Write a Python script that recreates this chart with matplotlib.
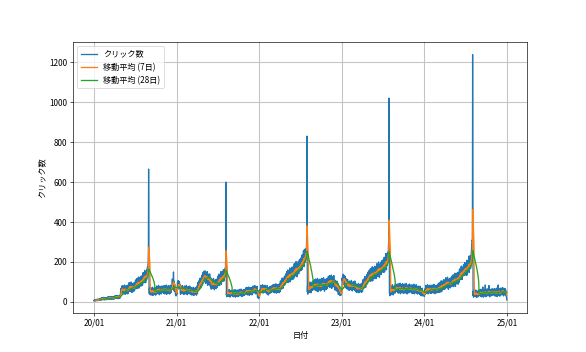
import numpy as np
import pandas as pd
import matplotlib
matplotlib.use("Agg")
import matplotlib.pyplot as plt
import matplotlib.dates as mdates

plt.rcParams['font.family'] = ['Noto Sans CJK JP', 'DejaVu Sans']

# Daily click counts, one list per month (Jan..Dec)
clicks_2020 = [
    [6, 5, 11, 7, 10, 5, 8, 12, 7, 5, 11, 9, 12, 7, 10, 15, 9, 6, 12, 8, 13, 10, 15, 9, 12, 10, 17, 10, 14, 9, 15],
    [13, 20, 10, 17, 22, 14, 12, 20, 15, 22, 11, 18, 23, 12, 15, 21, 10, 19, 14, 20, 12, 17, 22, 13, 11, 20, 15, 22, 12],
    [22, 16, 26, 18, 25, 14, 21, 27, 17, 14, 24, 19, 26, 15, 22, 28, 18, 13, 23, 16, 25, 18, 26, 14, 21, 17, 27, 15, 22, 14, 24],
    [20, 29, 17, 26, 32, 21, 19, 29, 23, 31, 18, 27, 33, 19, 22, 30, 16, 28, 21, 29, 19, 25, 31, 20, 18, 35, 30, 52, 68, 58],
    [68, 48, 80, 55, 75, 42, 62, 82, 50, 40, 72, 58, 78, 45, 65, 85, 52, 38, 70, 48, 75, 55, 80, 42, 62, 50, 82, 45, 68, 40, 72],
    [61, 89, 50, 78, 97, 64, 55, 86, 69, 94, 52, 80, 100, 58, 66, 92, 47, 83, 64, 89, 55, 75, 94, 61, 52, 86, 66, 97, 58, 80],
    [94, 71, 110, 81, 106, 67, 92, 117, 78, 67, 107, 89, 114, 76, 100, 125, 87, 69, 109, 83, 116, 93, 124, 79, 104, 90, 129, 85, 113, 80, 120],
    [96, 132, 84, 120, 146, 105, 96, 136, 115, 148, 97, 132, 158, 106, 118, 150, 96, 143, 120, 152, 111, 137, 162, 140, 175, 145, 185, 195, 250, 665, 300],
    [59, 41, 70, 48, 65, 37, 54, 72, 43, 34, 63, 50, 67, 39, 56, 74, 45, 32, 61, 41, 65, 48, 70, 37, 54, 43, 72, 39, 59, 34],
    [48, 73, 38, 63, 80, 50, 43, 70, 56, 78, 40, 66, 83, 46, 53, 76, 36, 68, 50, 73, 43, 60, 78, 48, 40, 70, 53, 80, 46, 66, 56],
    [68, 48, 80, 55, 75, 42, 62, 82, 50, 40, 72, 58, 78, 45, 65, 85, 52, 38, 70, 48, 75, 55, 80, 42, 62, 50, 82, 45, 68, 40],
    [52, 77, 42, 67, 84, 54, 47, 74, 60, 82, 72, 98, 115, 78, 85, 108, 68, 150, 82, 105, 55, 72, 90, 60, 52, 54, 37, 60, 30, 50, 40],
]
clicks_2021 = [
    [58, 38, 70, 80, 100, 67, 87, 107, 75, 65, 97, 83, 103, 70, 90, 85, 52, 38, 70, 48, 75, 55, 80, 42, 62, 50, 82, 45, 68, 40, 72],
    [48, 73, 38, 63, 80, 50, 43, 70, 56, 78, 40, 66, 83, 46, 53, 76, 36, 68, 50, 73, 43, 60, 78, 48, 40, 70, 53, 80],
    [59, 41, 70, 48, 65, 37, 54, 72, 43, 34, 63, 50, 67, 39, 56, 74, 45, 32, 61, 41, 65, 48, 70, 37, 54, 43, 72, 39, 59, 34, 63],
    [50, 82, 42, 75, 98, 64, 57, 92, 77, 106, 63, 95, 118, 76, 87, 116, 70, 111, 93, 122, 88, 111, 134, 101, 94, 132, 113, 148, 109, 135],
    [138, 109, 155, 119, 146, 100, 128, 155, 108, 93, 138, 116, 143, 97, 125, 152, 106, 83, 128, 96, 134, 105, 140, 87, 114, 95, 140, 87, 117, 78, 123],
    [76, 106, 64, 94, 115, 79, 70, 103, 85, 112, 67, 97, 118, 73, 82, 109, 61, 100, 79, 106, 70, 91, 112, 76, 67, 103, 82, 115, 73, 97],
    [110, 83, 130, 96, 126, 82, 111, 140, 95, 82, 130, 109, 138, 94, 123, 152, 108, 88, 135, 104, 144, 117, 153, 102, 132, 115, 162, 110, 142, 105, 153],
    [145, 160, 140, 170, 165, 230, 600, 330, 34, 54, 26, 46, 60, 36, 30, 52, 40, 58, 28, 48, 62, 32, 38, 56, 24, 50, 36, 54, 30, 44, 58],
    [48, 32, 58, 38, 54, 28, 44, 60, 34, 26, 52, 40, 56, 30, 46, 62, 36, 24, 50, 32, 54, 38, 58, 28, 44, 34, 60, 30, 48, 26],
    [37, 57, 29, 49, 63, 39, 33, 55, 43, 61, 31, 51, 65, 35, 41, 59, 27, 53, 39, 57, 33, 47, 61, 37, 31, 55, 41, 63, 35, 51, 43],
    [60, 42, 71, 49, 66, 38, 55, 73, 44, 35, 64, 51, 68, 40, 57, 75, 46, 33, 62, 42, 66, 49, 71, 38, 55, 44, 73, 40, 60, 35],
    [51, 73, 42, 64, 80, 53, 47, 71, 58, 78, 45, 67, 82, 49, 56, 75, 40, 69, 53, 73, 47, 62, 78, 30, 22, 46, 28, 48, 17, 32, 23],
]
clicks_2022 = [
    [35, 21, 56, 41, 63, 41, 64, 84, 55, 46, 75, 62, 79, 51, 68, 86, 57, 44, 73, 53, 77, 60, 82, 49, 66, 55, 84, 51, 71, 46, 75],
    [53, 75, 44, 66, 82, 43, 37, 61, 48, 68, 35, 57, 72, 51, 58, 77, 42, 71, 55, 75, 49, 64, 80, 53, 47, 73, 58, 82],
    [74, 54, 86, 61, 81, 48, 68, 88, 56, 46, 78, 64, 84, 51, 71, 91, 58, 44, 76, 54, 81, 61, 86, 48, 68, 56, 88, 51, 74, 46, 78],
    [60, 92, 51, 83, 105, 71, 63, 98, 81, 110, 66, 98, 120, 77, 87, 116, 69, 110, 90, 119, 84, 107, 129, 95, 87, 125, 105, 140, 99, 125],
    [131, 102, 152, 114, 146, 97, 129, 160, 111, 97, 147, 125, 157, 107, 139, 170, 122, 100, 149, 116, 159, 129, 168, 111, 143, 125, 175, 119, 153, 113, 163],
    [133, 176, 118, 161, 191, 141, 130, 177, 153, 192, 130, 172, 202, 140, 154, 192, 126, 181, 152, 191, 142, 172, 203, 153, 141, 192, 164, 211, 153, 188],
    [192, 158, 219, 176, 214, 158, 196, 234, 178, 163, 223, 199, 238, 181, 219, 258, 201, 177, 237, 200, 251, 217, 265, 199, 237, 245, 265, 225, 285, 320, 830],
    [500, 50, 81, 39, 70, 92, 57, 48, 82, 65, 92, 48, 79, 100, 56, 66, 93, 46, 86, 66, 93, 58, 80, 101, 66, 58, 95, 74, 108, 67, 91],
    [93, 65, 111, 76, 104, 59, 87, 115, 69, 55, 101, 79, 107, 62, 90, 118, 73, 51, 97, 65, 104, 76, 111, 59, 87, 69, 115, 62, 93, 55],
    [72, 107, 58, 93, 118, 76, 65, 104, 82, 114, 62, 96, 121, 68, 79, 110, 54, 100, 76, 107, 65, 90, 114, 72, 62, 104, 79, 118, 68, 96, 82],
    [110, 82, 128, 93, 121, 76, 104, 132, 86, 72, 118, 96, 124, 79, 107, 135, 90, 68, 114, 82, 121, 93, 128, 76, 104, 86, 132, 79, 110, 72],
    [73, 102, 59, 88, 108, 71, 61, 93, 74, 100, 54, 83, 103, 57, 65, 91, 38, 74, 51, 76, 37, 55, 74, 36, 32, 50, 39, 56, 34, 46, 40],
]
clicks_2023 = [
    [64, 60, 119, 106, 130, 91, 115, 139, 100, 88, 127, 109, 133, 80, 104, 128, 89, 71, 110, 83, 116, 80, 110, 65, 89, 74, 113, 68, 95, 62, 101],
    [69, 97, 58, 86, 105, 72, 63, 94, 77, 102, 60, 88, 108, 66, 74, 100, 55, 91, 72, 97, 63, 83, 102, 69, 60, 94, 74, 105],
    [76, 56, 88, 63, 83, 50, 70, 90, 58, 48, 80, 66, 86, 53, 73, 93, 60, 46, 78, 56, 83, 63, 88, 50, 70, 58, 90, 53, 76, 48, 80],
    [62, 96, 52, 86, 111, 74, 66, 103, 86, 116, 70, 104, 127, 81, 93, 123, 73, 117, 96, 126, 90, 114, 138, 101, 94, 133, 113, 150, 107, 134],
    [139, 110, 159, 122, 154, 104, 136, 167, 118, 104, 153, 131, 163, 113, 145, 176, 127, 105, 155, 121, 164, 134, 172, 116, 148, 129, 179, 123, 157, 117, 167],
    [133, 176, 117, 160, 191, 140, 129, 176, 152, 190, 128, 171, 200, 138, 152, 189, 123, 179, 150, 188, 139, 169, 199, 149, 138, 188, 160, 207, 149, 183],
    [186, 152, 211, 168, 206, 148, 186, 224, 168, 151, 211, 187, 224, 167, 205, 243, 185, 161, 221, 182, 233, 199, 245, 230, 250, 240, 290, 300, 1020, 540, 45],
    [41, 69, 31, 59, 79, 46, 38, 69, 53, 78, 37, 65, 86, 44, 53, 79, 35, 71, 53, 78, 45, 65, 85, 52, 44, 78, 59, 90, 52, 74, 64],
    [74, 52, 88, 60, 83, 46, 69, 91, 55, 44, 80, 63, 86, 49, 72, 94, 58, 41, 77, 52, 83, 60, 88, 46, 69, 55, 91, 49, 74, 44],
    [54, 82, 43, 71, 90, 57, 48, 79, 62, 87, 45, 73, 93, 51, 59, 85, 40, 76, 57, 82, 48, 68, 87, 54, 45, 79, 59, 90, 51, 73, 62],
    [71, 50, 84, 58, 79, 45, 66, 86, 53, 42, 76, 60, 81, 47, 68, 89, 55, 40, 73, 50, 79, 58, 84, 45, 66, 53, 86, 47, 71, 42],
    [50, 74, 40, 64, 80, 51, 43, 69, 54, 75, 38, 62, 79, 42, 49, 70, 31, 62, 45, 65, 37, 52, 69, 34, 30, 48, 36, 52, 31, 44, 38],
]
clicks_2024 = [
    [43, 28, 63, 43, 66, 39, 62, 84, 52, 43, 74, 60, 79, 48, 67, 86, 55, 40, 72, 50, 76, 57, 81, 45, 64, 52, 84, 48, 69, 43, 74],
    [53, 78, 43, 68, 85, 55, 48, 75, 61, 83, 45, 71, 88, 51, 58, 81, 41, 73, 55, 78, 48, 65, 83, 53, 45, 75, 58, 85, 51],
    [74, 51, 91, 61, 86, 48, 73, 97, 59, 48, 87, 70, 95, 57, 81, 106, 68, 51, 90, 64, 98, 75, 105, 61, 86, 72, 111, 67, 95, 63, 102],
    [79, 111, 66, 98, 121, 82, 73, 108, 89, 118, 70, 102, 124, 76, 86, 114, 63, 105, 82, 111, 73, 95, 118, 79, 70, 108, 86, 121, 76, 102],
    [110, 83, 129, 95, 123, 79, 108, 136, 91, 77, 124, 103, 131, 87, 115, 144, 100, 78, 125, 93, 133, 106, 141, 90, 118, 101, 148, 95, 127, 89, 136],
    [110, 149, 98, 137, 165, 121, 110, 154, 132, 168, 112, 151, 180, 124, 137, 173, 113, 164, 139, 175, 130, 158, 186, 142, 132, 179, 153, 197, 145, 177],
    [169, 135, 195, 152, 190, 133, 170, 208, 152, 136, 196, 172, 210, 153, 191, 229, 171, 147, 207, 169, 220, 186, 233, 167, 205, 185, 244, 260, 290, 270, 310],
    [300, 1238, 570, 32, 52, 24, 44, 58, 34, 28, 50, 38, 56, 26, 46, 60, 30, 36, 54, 22, 48, 34, 52, 28, 42, 56, 32, 26, 50, 36, 58],
    [51, 33, 62, 40, 57, 29, 46, 64, 35, 26, 55, 42, 59, 31, 48, 75, 37, 24, 53, 33, 57, 40, 62, 29, 46, 35, 85, 31, 51, 26],
    [37, 59, 28, 50, 66, 39, 33, 57, 44, 64, 31, 53, 82, 35, 42, 61, 26, 55, 39, 59, 33, 48, 64, 37, 31, 57, 42, 66, 35, 53, 44],
    [54, 36, 65, 43, 60, 32, 49, 67, 38, 29, 58, 45, 62, 34, 51, 69, 40, 27, 56, 36, 60, 43, 85, 32, 49, 38, 67, 34, 54, 29],
    [41, 63, 32, 54, 70, 43, 37, 61, 48, 68, 35, 57, 72, 39, 46, 65, 30, 59, 43, 63, 37, 52, 68, 41, 35, 61, 42, 45, 28, 22, 10],
]

years = {2020: clicks_2020, 2021: clicks_2021, 2022: clicks_2022,
         2023: clicks_2023, 2024: clicks_2024}

label_clicks = 'クリック数'
label_ma7 = '移動平均 (7日)'
label_ma28 = '移動平均 (28日)'
xlabel = '日付'
ylabel = 'クリック数'

# Build the daily series
dates, vals = [], []
for y, months in years.items():
    for m, v in enumerate(months, start=1):
        start = pd.Timestamp(year=y, month=m, day=1)
        ndays = start.days_in_month
        n = len(v)
        offs = pd.to_timedelta(np.arange(n) * ndays / n, unit='D')
        dates.extend(list(start + offs))
        vals.extend(v)

s = pd.Series(vals, index=pd.DatetimeIndex(dates), dtype=float)
ma7 = s.rolling(7).mean()
ma28 = s.rolling(28).mean()

fig, ax = plt.subplots(figsize=(10, 352 / 58.6), dpi=58.6)
ax.plot(s.index, s.values, label=label_clicks, color='#1f77b4', lw=1.6)
ax.plot(ma7.index, ma7.values, label=label_ma7, color='#ff7f0e', lw=1.6)
ax.plot(ma28.index, ma28.values, label=label_ma28, color='#2ca02c', lw=1.6)

ax.xaxis.set_major_locator(mdates.YearLocator())
ax.xaxis.set_major_formatter(mdates.DateFormatter('%y/%m'))
ax.set_xlabel(xlabel)
ax.set_ylabel(ylabel)
ax.grid(True, color='#c4c4c4', linewidth=1.3)
ax.legend(loc='upper left')

fig.savefig('out.png', dpi=58.6)
